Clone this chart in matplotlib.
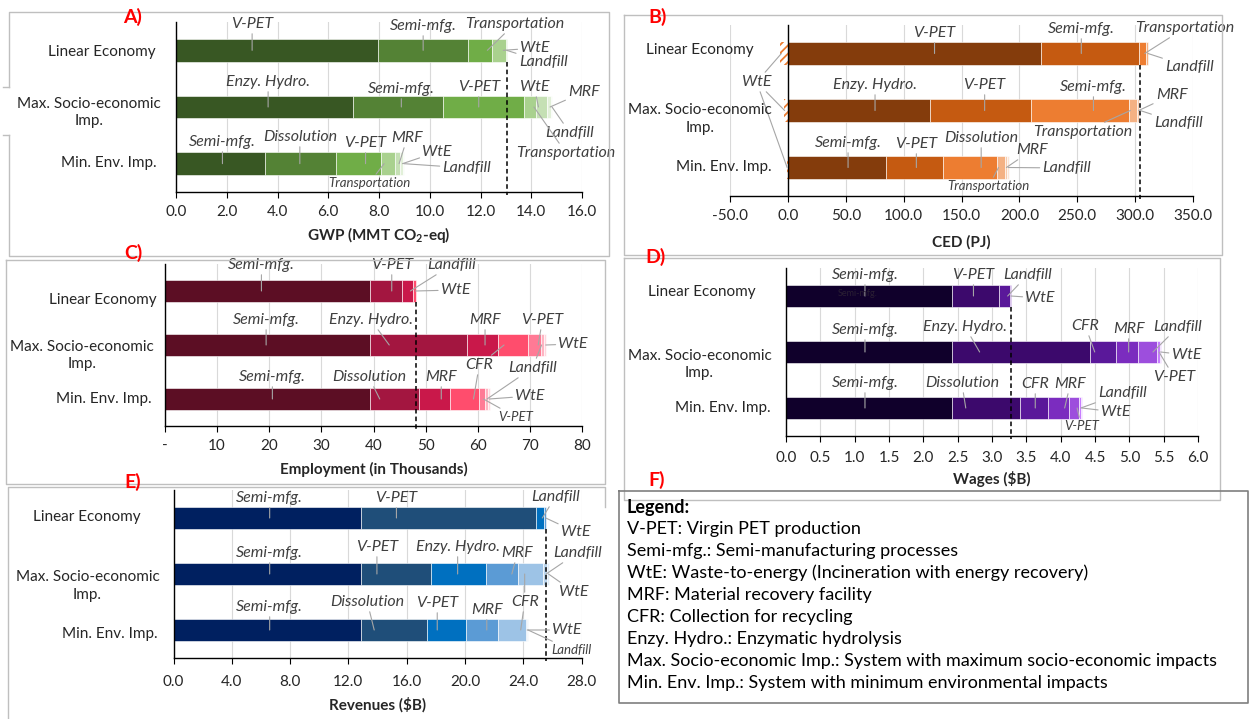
import matplotlib.pyplot as plt
from matplotlib.lines import Line2D
from matplotlib.transforms import Affine2D, blended_transform_factory

W, H = 1249, 719

plt.rcParams['font.family'] = ['Lato', 'DejaVu Sans']
plt.rcParams['mathtext.fontset'] = 'custom'
plt.rcParams['mathtext.rm'] = 'Lato'
plt.rcParams['mathtext.bf'] = 'Lato:bold'
plt.rcParams['hatch.linewidth'] = 1.3

scenarios = ['Linear Economy', 'Max. Socio-economic\nImp.', 'Min. Env. Imp.']

# A) GWP (MMT CO2-eq)
gwp_stages = [
    ['V-PET', 'Semi-mfg.', 'Transportation', 'WtE', 'Landfill'],
    ['Enzy. Hydro.', 'Semi-mfg.', 'V-PET', 'Transportation', 'WtE', 'MRF', 'Landfill'],
    ['Semi-mfg.', 'Dissolution', 'V-PET', 'Transportation', 'MRF', 'WtE', 'Landfill'],
]
gwp_values = [
    [7.97, 3.54, 0.95, 0.55, 0.03],
    [6.97, 3.55, 3.21, 0.47, 0.42, 0.15, 0.06],
    [3.50, 2.82, 1.77, 0.55, 0.19, 0.12, 0.04],
]
gwp_ticks = [0, 2, 4, 6, 8, 10, 12, 14, 16]
gwp_ticklabels = ['0.0', '2.0', '4.0', '6.0', '8.0', '10.0', '12.0', '14.0', '16.0']

# B) CED (PJ); the WtE credit is negative
ced_stages = [
    ['WtE', 'V-PET', 'Semi-mfg.', 'Transportation', 'Landfill'],
    ['WtE', 'Enzy. Hydro.', 'V-PET', 'Semi-mfg.', 'Transportation', 'MRF', 'Landfill'],
    ['WtE', 'Semi-mfg.', 'V-PET', 'Dissolution', 'Transportation', 'MRF', 'Landfill'],
]
ced_values = [
    [-7.0, 219.0, 84.5, 6.0, 2.0],
    [-3.5, 122.6, 87.4, 84.5, 7.0, 2.0, 1.0],
    [-0.8, 84.5, 49.3, 46.9, 6.5, 2.0, 1.5],
]
ced_ticks = [-50, 0, 50, 100, 150, 200, 250, 300, 350]
ced_ticklabels = ['-50.0', '0.0', '50.0', '100.0', '150.0', '200.0', '250.0', '300.0', '350.0']

# C) Employment (thousands)
emp_stages = [
    ['Semi-mfg.', 'V-PET', 'Landfill', 'WtE'],
    ['Semi-mfg.', 'Enzy. Hydro.', 'MRF', 'CFR', 'V-PET', 'Landfill', 'WtE'],
    ['Semi-mfg.', 'Dissolution', 'MRF', 'CFR', 'V-PET', 'Landfill', 'WtE'],
]
emp_values = [
    [39.3, 6.1, 2.1, 0.7],
    [39.3, 18.6, 6.0, 5.7, 2.5, 0.7, 0.3],
    [39.3, 9.5, 5.9, 5.6, 1.0, 0.6, 0.4],
]
emp_ticks = [0, 10, 20, 30, 40, 50, 60, 70, 80]
emp_ticklabels = ['-', '10', '20', '30', '40', '50', '60', '70', '80']

# D) Wages ($B)
wage_stages = [
    ['Semi-mfg.', 'V-PET', 'Landfill', 'WtE'],
    ['Semi-mfg.', 'Enzy. Hydro.', 'CFR', 'MRF', 'Landfill', 'V-PET', 'WtE'],
    ['Semi-mfg.', 'Dissolution', 'CFR', 'MRF', 'V-PET', 'Landfill', 'WtE'],
]
wage_values = [
    [2.42, 0.68, 0.16, 0.02],
    [2.42, 2.00, 0.38, 0.32, 0.28, 0.04, 0.02],
    [2.42, 0.99, 0.40, 0.31, 0.15, 0.03, 0.01],
]
wage_ticks = [0, 0.5, 1, 1.5, 2, 2.5, 3, 3.5, 4, 4.5, 5, 5.5, 6]
wage_ticklabels = ['0.0', '0.5', '1.0', '1.5', '2.0', '2.5', '3.0', '3.5', '4.0', '4.5', '5.0', '5.5', '6.0']

# E) Revenues ($B)
rev_stages = [
    ['Semi-mfg.', 'V-PET', 'Landfill', 'WtE'],
    ['Semi-mfg.', 'V-PET', 'Enzy. Hydro.', 'MRF', 'CFR', 'Landfill', 'WtE'],
    ['Semi-mfg.', 'Dissolution', 'V-PET', 'MRF', 'CFR', 'WtE', 'Landfill'],
]
rev_values = [
    [12.87, 12.00, 0.55, 0.16],
    [12.87, 4.77, 3.82, 2.20, 1.69, 0.28, 0.13],
    [12.87, 4.52, 2.65, 2.26, 1.91, 0.08, 0.05],
]
rev_ticks = [0, 4, 8, 12, 16, 20, 24, 28]
rev_ticklabels = ['0.0', '4.0', '8.0', '12.0', '16.0', '20.0', '24.0', '28.0']

legend_lines = [
    'V-PET: Virgin PET production',
    'Semi-mfg.: Semi-manufacturing processes',
    'WtE: Waste-to-energy (Incineration with energy recovery)',
    'MRF: Material recovery facility',
    'CFR: Collection for recycling',
    'Enzy. Hydro.: Enzymatic hydrolysis',
    'Max. Socio-economic Imp.: System with maximum socio-economic impacts',
    'Min. Env. Imp.: System with minimum environmental impacts',
]

# colour ramps, darkest segment first
greens = ['#385723', '#548235', '#70AD47', '#A9D18E', '#C5E0B4', '#E2F0D9', '#F0F8EC']
oranges = ['#843C0C', '#C55A11', '#ED7D31', '#F4B183', '#F8CBAD', '#FBE5D6', '#FDF2EA']
reds = ['#5C0E24', '#A31640', '#C9184A', '#FF4D6D', '#FF7A95', '#FFB3C1', '#FFD6DE']
purples = ['#10002B', '#3C096C', '#5A189A', '#7B2CBF', '#9D4EDD', '#C77DFF', '#E0AAFF']
blues = ['#002060', '#1F4E79', '#0070C0', '#5B9BD5', '#9DC3E6', '#BDD7EE', '#DEEBF7']

fig = plt.figure(figsize=(W / 100, H / 100), dpi=100)
# pixel coordinates counted from the top-left corner
px = Affine2D().scale(1 / W, -1 / H).translate(0, 1) + fig.transFigure

LABEL = 11.5
SMALL = 9.5


def draw_panel(rect, xlim, stages, values, colors, ticks, ticklabels, callouts,
               row_pos, xlabel, xlabel_pos, tick_pad, zero_spine=False):
    left, right, top, bottom = rect
    ax = fig.add_axes([left / W, 1 - bottom / H, (right - left) / W, (bottom - top) / H])
    spans = []
    for row, (names, vals) in enumerate(zip(stages, values)):
        start, shade, span = 0.0, 0, {}
        for name, v in zip(names, vals):
            if v < 0:
                ax.barh(row, v, height=0.4, color='white', edgecolor=colors[2],
                        hatch='////', linewidth=0, zorder=2)
                span[name] = (v, 0.0)
            else:
                ax.barh(row, v, left=start, height=0.4, color=colors[shade],
                        edgecolor='white', linewidth=0.4, zorder=2)
                span[name] = (start, start + v)
                start += v
                shade += 1
        spans.append(span)

    # reference line at the linear-economy total
    linear_total = sum(values[0])
    ax.plot([linear_total, linear_total], [0.2, 2.55], color='black', lw=1.1,
            ls=(0, (3, 2)), zorder=3, clip_on=False)

    ax.set_xlim(*xlim)
    ax.set_ylim(2.5, -0.5)
    ax.set_xticks(ticks)
    ax.set_xticklabels(ticklabels)
    ax.set_yticks([])
    ax.tick_params(axis='x', direction='out', length=4, width=0.8, pad=tick_pad,
                   labelsize=11, labelcolor='#262626')
    ax.grid(axis='x', color='#D9D9D9', lw=0.8)
    ax.set_axisbelow(True)
    for s in ('top', 'right'):
        ax.spines[s].set_visible(False)
    for s in ('left', 'bottom'):
        ax.spines[s].set_color('black')
        ax.spines[s].set_linewidth(1.0)
    if zero_spine:
        ax.spines['left'].set_position(('data', 0))

    text_tf = blended_transform_factory(ax.transData, px)
    for text, x, y, targets, size in callouts:
        for i, (row, name) in enumerate(targets):
            a, b = spans[row][name]
            w = b - a
            # leader drops straight down when the label sits over its segment
            end_x = min(max(x, a + 0.2 * w), b - 0.2 * w)
            ax.annotate(text, xy=(end_x, row), xytext=(x, y), textcoords=text_tf,
                        ha='center', va='center', fontsize=size, style='italic',
                        color='#404040' if i == 0 else 'none',
                        arrowprops=dict(arrowstyle='-', color='#A6A6A6', lw=0.8,
                                        shrinkA=0, shrinkB=0),
                        annotation_clip=False, zorder=4)

    for label, (lx, ly) in zip(scenarios, row_pos):
        fig.text(lx, ly, label, transform=px, ha='center', va='center',
                 multialignment='center', fontsize=11, color='#262626', linespacing=1.3)
    fig.text(xlabel_pos[0], xlabel_pos[1], xlabel, transform=px, ha='center', va='center',
             fontsize=11, fontweight='bold', color='#262626')
    return ax, text_tf


gwp_callouts = [
    ('V-PET', 3.0, 24, [(0, 'V-PET')], LABEL),
    ('Semi-mfg.', 9.74, 26, [(0, 'Semi-mfg.')], LABEL),
    ('Transportation', 13.34, 24, [(0, 'Transportation')], LABEL),
    ('WtE', 14.15, 48, [(0, 'WtE')], LABEL),
    ('Landfill', 14.47, 62, [(0, 'Landfill')], LABEL),
    ('Enzy. Hydro.', 3.63, 82, [(1, 'Enzy. Hydro.')], LABEL),
    ('Semi-mfg.', 8.88, 89, [(1, 'Semi-mfg.')], LABEL),
    ('V-PET', 11.93, 87, [(1, 'V-PET')], LABEL),
    ('WtE', 14.12, 87, [(1, 'WtE')], LABEL),
    ('MRF', 16.08, 92, [(1, 'MRF')], LABEL),
    ('Landfill', 15.53, 133, [(1, 'Landfill')], LABEL),
    ('Transportation', 15.37, 153, [(1, 'Transportation')], LABEL),
    ('Semi-mfg.', 1.83, 142, [(2, 'Semi-mfg.')], LABEL),
    ('Dissolution', 4.88, 137, [(2, 'Dissolution')], LABEL),
    ('V-PET', 7.47, 143, [(2, 'V-PET')], LABEL),
    ('MRF', 9.11, 138, [(2, 'MRF')], LABEL),
    ('WtE', 10.29, 152, [(2, 'WtE')], LABEL),
    ('Landfill', 11.46, 168, [(2, 'Landfill')], LABEL),
    ('Transportation', 7.62, 183, [(2, 'Transportation')], SMALL),
]
draw_panel((176, 582, 22, 192), (0, 16), gwp_stages, gwp_values, greens,
           gwp_ticks, gwp_ticklabels, gwp_callouts,
           [(102, 52), (89, 112.5), (109, 163)],
           r'GWP (MMT CO$_\mathbf{2}$-eq)', (379, 235), 5)

ced_callouts = [
    ('V-PET', 126.7, 33, [(0, 'V-PET')], LABEL),
    ('Semi-mfg.', 253.5, 29, [(0, 'Semi-mfg.')], LABEL),
    ('Transportation', 343, 28, [(0, 'Transportation')], LABEL),
    ('Landfill', 347, 67, [(0, 'Landfill')], LABEL),
    ('WtE', -27, 82, [(0, 'WtE'), (1, 'WtE'), (2, 'WtE')], LABEL),
    ('Enzy. Hydro.', 75.3, 85, [(1, 'Enzy. Hydro.')], LABEL),
    ('V-PET', 170, 85, [(1, 'V-PET')], LABEL),
    ('Semi-mfg.', 264, 87, [(1, 'Semi-mfg.')], LABEL),
    ('MRF', 331.6, 95, [(1, 'MRF')], LABEL),
    ('Landfill', 337.5, 123, [(1, 'Landfill')], LABEL),
    ('Transportation', 255, 132, [(1, 'Transportation')], LABEL),
    ('Semi-mfg.', 52, 143, [(2, 'Semi-mfg.')], LABEL),
    ('V-PET', 111, 144, [(2, 'V-PET')], LABEL),
    ('Dissolution', 167, 138, [(2, 'Dissolution')], LABEL),
    ('MRF', 211, 150, [(2, 'MRF')], LABEL),
    ('Landfill', 241, 168, [(2, 'Landfill')], LABEL),
    ('Transportation', 173.6, 186, [(2, 'Transportation')], SMALL),
]
draw_panel((730, 1193, 25, 196), (-50, 350), ced_stages, ced_values, oranges,
           ced_ticks, ced_ticklabels, ced_callouts,
           [(700, 50), (700, 119), (724, 167)],
           'CED (PJ)', (961, 242), 5.5, zero_spine=True)

emp_callouts = [
    ('Semi-mfg.', 18.5, 265, [(0, 'Semi-mfg.')], LABEL),
    ('V-PET', 43.5, 265, [(0, 'V-PET')], LABEL),
    ('Landfill', 55.0, 265, [(0, 'Landfill')], LABEL),
    ('WtE', 55.75, 290, [(0, 'WtE')], LABEL),
    ('Semi-mfg.', 19.4, 320, [(1, 'Semi-mfg.')], LABEL),
    ('Enzy. Hydro.', 39.5, 320, [(1, 'Enzy. Hydro.')], LABEL),
    ('MRF', 61.4, 320, [(1, 'MRF')], LABEL),
    ('V-PET', 72.4, 320, [(1, 'V-PET')], LABEL),
    ('WtE', 78.3, 344, [(1, 'WtE')], LABEL),
    ('CFR', 60.3, 365, [(1, 'CFR'), (2, 'CFR')], LABEL),
    ('Landfill', 70.5, 368, [(1, 'Landfill'), (2, 'Landfill')], LABEL),
    ('Semi-mfg.', 20.6, 377, [(2, 'Semi-mfg.')], LABEL),
    ('Dissolution', 39.1, 377, [(2, 'Dissolution')], LABEL),
    ('MRF', 53.0, 377, [(2, 'MRF')], LABEL),
    ('WtE', 70.0, 396, [(2, 'WtE')], LABEL),
    ('V-PET', 67.3, 417, [(2, 'V-PET')], SMALL),
]
draw_panel((165, 582, 264, 426), (0, 80), emp_stages, emp_values, reds,
           emp_ticks, emp_ticklabels, emp_callouts,
           [(103, 300), (82, 355.5), (103.5, 399)],
           'Employment (in Thousands)', (373.5, 469), 5.5)

wage_callouts = [
    ('Semi-mfg.', 1.15, 275, [(0, 'Semi-mfg.')], LABEL),
    ('V-PET', 2.73, 275, [(0, 'V-PET')], LABEL),
    ('Landfill', 3.52, 275, [(0, 'Landfill')], LABEL),
    ('WtE', 3.70, 298, [(0, 'WtE')], LABEL),
    ('Semi-mfg.', 1.15, 330, [(1, 'Semi-mfg.')], LABEL),
    ('Enzy. Hydro.', 2.61, 327, [(1, 'Enzy. Hydro.')], LABEL),
    ('CFR', 4.36, 326, [(1, 'CFR')], LABEL),
    ('MRF', 4.99, 329, [(1, 'MRF')], LABEL),
    ('Landfill', 5.71, 327, [(1, 'Landfill')], LABEL),
    ('WtE', 5.83, 355, [(1, 'WtE')], LABEL),
    ('V-PET', 5.65, 377, [(1, 'V-PET')], LABEL),
    ('Semi-mfg.', 1.15, 383, [(2, 'Semi-mfg.')], LABEL),
    ('Dissolution', 2.56, 383, [(2, 'Dissolution')], LABEL),
    ('CFR', 3.63, 384, [(2, 'CFR')], LABEL),
    ('MRF', 4.14, 384, [(2, 'MRF')], LABEL),
    ('Landfill', 4.90, 393, [(2, 'Landfill')], LABEL),
    ('WtE', 4.80, 412, [(2, 'WtE')], LABEL),
    ('V-PET', 4.30, 426, [(2, 'V-PET')], SMALL),
]
ax_d, tf_d = draw_panel((786, 1198, 268, 436), (0, 6), wage_stages, wage_values, purples,
                        wage_ticks, wage_ticklabels, wage_callouts,
                        [(702, 292), (699.5, 364.5), (722.5, 408)],
                        r'Wages (\$B)', (992, 479), 7)
ax_d.text(1.05, 293, 'Semi-mfg.', transform=tf_d, ha='center', va='center',
          fontsize=6.5, color='#2A1F33', zorder=4)

rev_callouts = [
    ('Semi-mfg.', 6.6, 498, [(0, 'Semi-mfg.')], LABEL),
    ('V-PET', 15.3, 498, [(0, 'V-PET')], LABEL),
    ('Landfill', 26.2, 497, [(0, 'Landfill')], LABEL),
    ('WtE', 27.6, 532, [(0, 'WtE')], LABEL),
    ('Semi-mfg.', 6.6, 553, [(1, 'Semi-mfg.')], LABEL),
    ('V-PET', 13.96, 547, [(1, 'V-PET')], LABEL),
    ('Enzy. Hydro.', 19.5, 547, [(1, 'Enzy. Hydro.')], LABEL),
    ('MRF', 23.6, 553, [(1, 'MRF')], LABEL),
    ('Landfill', 27.7, 553, [(1, 'Landfill')], LABEL),
    ('WtE', 27.5, 592, [(1, 'WtE')], LABEL),
    ('Semi-mfg.', 6.6, 607, [(2, 'Semi-mfg.')], LABEL),
    ('Dissolution', 13.3, 602, [(2, 'Dissolution')], LABEL),
    ('V-PET', 18.1, 603, [(2, 'V-PET')], LABEL),
    ('MRF', 21.5, 610, [(2, 'MRF')], LABEL),
    ('CFR', 24.1, 602, [(1, 'CFR'), (2, 'CFR')], LABEL),
    ('WtE', 27.0, 630, [(2, 'WtE')], LABEL),
    ('Landfill', 27.3, 650, [(2, 'Landfill')], SMALL),
]
draw_panel((173.5, 581.5, 490, 658), (0, 28), rev_stages, rev_values, blues,
           rev_ticks, rev_ticklabels, rev_callouts,
           [(87, 517), (87.5, 586), (109.5, 634)],
           r'Revenues (\$B)', (377.5, 705), 8)


def frame(xs, ys, color='#BFBFBF', lw=1.0):
    fig.add_artist(Line2D(xs, ys, transform=px, color=color, lw=lw))


# panel frames
frame([9, 9, 609, 609, 9, 9], [87, 12, 12, 256, 256, 135])
frame([3, 9], [87, 87])
frame([3, 9], [135, 135])
frame([624, 1222, 1222, 624, 624], [15, 15, 255, 255, 15])
frame([6, 605, 605, 6, 6], [260, 260, 484, 484, 260])
frame([624, 1220, 1220, 624, 624], [258, 258, 500, 500, 258])
frame([605, 605, 8, 8], [507, 487, 487, 719])
frame([619, 1248, 1248, 619, 619], [491, 491, 703, 703, 491], color='#7F7F7F', lw=1.2)

for letter, (lx, ly) in zip(['A)', 'B)', 'C)', 'D)', 'E)', 'F)'],
                            [(133, 17), (658, 17), (133, 253), (656, 257), (133, 482), (657, 480)]):
    fig.text(lx, ly, letter, transform=px, ha='center', va='center',
             fontsize=14, fontweight='bold', color='#FF0000')

fig.text(627, 508, 'Legend:', transform=px, ha='left', va='center',
         fontsize=13, fontweight='bold', color='black')
for i, line in enumerate(legend_lines):
    fig.text(627, 529 + 22 * i, line, transform=px, ha='left', va='center',
             fontsize=13, color='black')

fig.savefig('out.png', dpi=100)
